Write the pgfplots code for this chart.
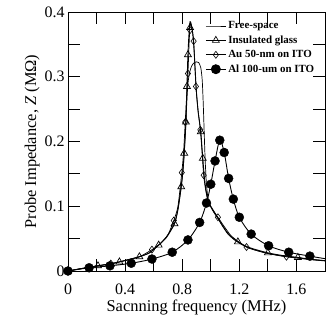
\documentclass[border=0pt]{standalone}
\usepackage{fontspec}
\setmainfont{Liberation Serif}
\usepackage{pgfplots}
\pgfplotsset{compat=1.18}
\usetikzlibrary{calc}

\begin{document}
\begin{tikzpicture}
\begin{axis}[
  name=ax,
  scale only axis,
  width=257bp, height=259bp,
  xmin=0, xmax=1.8, ymin=0, ymax=0.4,
  xtick={0,0.4,0.8,1.2,1.6},
  minor xtick={0.2,0.6,1.0,1.4},
  ytick={0,0.1,0.2,0.3,0.4},
  minor ytick={0.05,0.15,0.25,0.35},
  xticklabels={0,0.4,0.8,1.2,1.6},
  yticklabels={0,0.1,0.2,0.3,0.4},
  tick align=inside,
  ticks=both,
  major tick length=12bp,
  minor tick length=12bp,
  every tick/.style={black, line width=0.8pt},
  axis line style={line width=0.9pt},
  tick label style={font=\fontsize{16}{18}\selectfont},
  xticklabel style={yshift=-9bp},
  /pgf/number format/assume math mode=true,
  xlabel={Sacnning frequency (MHz)},
  ylabel={Probe Impedance, \textit{Z} (MΩ)},
  label style={font=\fontsize{16.5}{19}\selectfont},
  xlabel style={yshift=1bp},
  ylabel style={yshift=-2bp},
  clip=true,
  legend style={at={(0.53,0.975)}, anchor=north west, draw=none, fill=none,
    font=\bfseries\fontsize{11}{13}\selectfont, row sep=1.5bp,
    inner sep=1bp},
  legend cell align=left,
  legend image code/.code={\draw[mark repeat=2,mark phase=2,#1] plot coordinates {(0bp,0bp)(10bp,0bp)(20bp,0bp)};},
]
\addlegendimage{black, line width=0.7pt}
\addlegendentry{Free-space}
\addlegendimage{black, line width=0.9pt, mark=triangle, mark size=4bp, mark options={solid, fill=white, line width=0.7pt}}
\addlegendentry{Insulated glass}
\addlegendimage{black, line width=0.7pt, mark=diamond, mark size=3.5bp, mark options={solid, fill=white, line width=0.6pt}}
\addlegendentry{Au 50-nm on ITO}
\addlegendimage{black, line width=0.9pt, mark=*, mark size=4.5bp}
\addlegendentry{Al 100-um on ITO}

% Free-space
\addplot[black, line width=0.7pt, smooth, tension=0.4, forget plot] coordinates {
(0,0) (0.05,0.002) (0.1,0.004) (0.21,0.008) (0.3,0.011) (0.36,0.014) (0.43,0.018)
(0.5,0.022) (0.57,0.028) (0.635,0.04) (0.69,0.053) (0.746,0.074) (0.77,0.095)
(0.793,0.13) (0.805,0.155) (0.814,0.182) (0.826,0.23) (0.833,0.265) (0.84,0.289)
(0.85,0.305) (0.865,0.316) (0.88,0.321) (0.9,0.323) (0.915,0.322) (0.93,0.314)
(0.94,0.295) (0.947,0.26) (0.953,0.22) (0.96,0.175) (0.968,0.14) (0.977,0.118)
(0.99,0.104) (1.02,0.091) (1.05,0.081) (1.08,0.07) (1.12,0.057) (1.16,0.049)
(1.2,0.043) (1.25,0.037) (1.3,0.033) (1.4,0.027) (1.5,0.023) (1.6,0.02)
(1.7,0.0175) (1.8,0.0155)
};

% Insulated glass line
\addplot[black, line width=0.9pt, smooth, tension=0.4, forget plot] coordinates {
(0,0) (0.05,0.002) (0.1,0.004) (0.21,0.008) (0.3,0.011) (0.36,0.014) (0.43,0.018)
(0.5,0.022) (0.57,0.028) (0.635,0.04) (0.69,0.052) (0.746,0.073) (0.77,0.095)
(0.793,0.13) (0.805,0.155) (0.814,0.182) (0.826,0.23) (0.833,0.285) (0.84,0.334)
(0.848,0.368) (0.855,0.385) (0.862,0.382) (0.872,0.37) (0.882,0.345) (0.892,0.305)
(0.9,0.275) (0.912,0.245) (0.93,0.215) (0.944,0.174) (0.955,0.145) (0.965,0.127)
(0.978,0.112) (0.99,0.103) (1.02,0.092) (1.05,0.082) (1.08,0.071) (1.12,0.058)
(1.16,0.05) (1.19,0.045) (1.25,0.038) (1.3,0.034) (1.4,0.028) (1.5,0.024)
(1.61,0.021) (1.7,0.018) (1.8,0.016)
};
\addplot[only marks, black, mark=triangle, mark size=4bp, mark options={fill=white, line width=0.7pt}, forget plot] coordinates {
(0,0) (0.21,0.008) (0.36,0.014) (0.5,0.022) (0.635,0.04) (0.746,0.073)
(0.793,0.13) (0.814,0.182) (0.826,0.23) (0.833,0.285) (0.84,0.334) (0.855,0.376)
(0.93,0.215) (0.944,0.174) (1.19,0.045) (1.4,0.028) (1.61,0.021)
};

% Au line
\addplot[black, line width=0.7pt, smooth, tension=0.4, forget plot] coordinates {
(0,0) (0.1,0.004) (0.2,0.0078) (0.3,0.0115) (0.4,0.016) (0.5,0.022) (0.588,0.033)
(0.65,0.043) (0.7,0.056) (0.741,0.078) (0.77,0.1) (0.797,0.152) (0.81,0.185)
(0.821,0.23) (0.832,0.275) (0.84,0.305) (0.848,0.35) (0.855,0.382) (0.862,0.38)
(0.872,0.37) (0.88,0.355) (0.888,0.32) (0.896,0.285) (0.91,0.25) (0.927,0.218)
(0.94,0.18) (0.95,0.148) (0.962,0.128) (0.975,0.113) (0.99,0.104) (1.02,0.093)
(1.05,0.083) (1.09,0.07) (1.14,0.055) (1.19,0.046) (1.25,0.037) (1.3,0.033)
(1.4,0.027) (1.53,0.022) (1.6,0.0205) (1.7,0.018) (1.8,0.016)
};
\addplot[only marks, black, mark=diamond, mark size=3.5bp, mark options={fill=white, line width=0.6pt}, forget plot] coordinates {
(0.3,0.0115) (0.588,0.033) (0.741,0.078) (0.797,0.152) (0.821,0.23) (0.84,0.305)
(0.855,0.372) (0.88,0.355) (0.896,0.285) (0.927,0.218) (0.95,0.148) (1.05,0.083)
(1.25,0.037) (1.53,0.022)
};

% Al line
\addplot[black, line width=0.9pt, smooth, tension=0.5, forget plot] coordinates {
(0,0) (0.148,0.005) (0.294,0.008) (0.443,0.012) (0.588,0.0185) (0.73,0.029)
(0.84,0.048) (0.922,0.075) (0.97,0.105) (1.0,0.134) (1.03,0.170) (1.063,0.202)
(1.094,0.183) (1.125,0.143) (1.158,0.111) (1.2,0.083) (1.283,0.057) (1.405,0.039)
(1.546,0.029) (1.694,0.023) (1.8,0.019)
};
\addplot[only marks, black, mark=*, mark size=4.5bp, forget plot] coordinates {
(0,0) (0.148,0.005) (0.294,0.008) (0.443,0.012) (0.588,0.0185) (0.73,0.029)
(0.84,0.048) (0.922,0.075) (0.97,0.105) (1.0,0.134) (1.03,0.170) (1.063,0.202)
(1.094,0.183) (1.125,0.143) (1.158,0.111) (1.2,0.083) (1.283,0.057) (1.405,0.039)
(1.546,0.029) (1.694,0.023)
};
\end{axis}
\path ($(ax.south west)+(-68bp,-51bp)$) rectangle ($(ax.north east)+(1bp,12bp)$);
\end{tikzpicture}
\end{document}
